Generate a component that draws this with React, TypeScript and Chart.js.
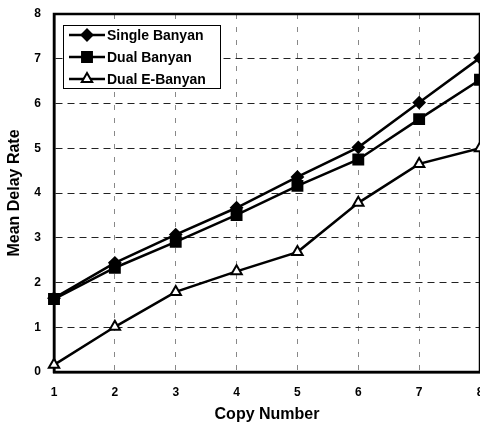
import React, { useEffect, useRef } from 'react';
import { Chart, registerables } from 'chart.js';

Chart.register(...registerables);

const copyNumbers = ['1', '2', '3', '4', '5', '6', '7', '8'];
const singleBanyan = [1.65, 2.44, 3.07, 3.67, 4.36, 5.02, 6.02, 7.02];
const dualBanyan = [1.63, 2.33, 2.91, 3.51, 4.16, 4.75, 5.65, 6.53];
const dualEBanyan = [0.16, 1.01, 1.79, 2.25, 2.68, 3.78, 4.65, 5.0];
const seriesNames = ['Single Banyan', 'Dual Banyan', 'Dual E-Banyan'];
const yMin = 0;
const yMax = 8;
const yStep = 1;

const FONT = '"Liberation Sans", Arial, sans-serif';

function drawMarker(ctx: CanvasRenderingContext2D, style: string, x: number, y: number, r: number) {
  ctx.save();
  ctx.beginPath();
  ctx.lineWidth = 2;
  ctx.strokeStyle = '#000';
  if (style === 'rectRot') {
    ctx.moveTo(x - r, y);
    ctx.lineTo(x, y - r);
    ctx.lineTo(x + r, y);
    ctx.lineTo(x, y + r);
    ctx.closePath();
    ctx.fillStyle = '#000';
    ctx.fill();
    ctx.stroke();
  } else if (style === 'rect') {
    const s = r * Math.SQRT1_2;
    ctx.rect(x - s, y - s, 2 * s, 2 * s);
    ctx.fillStyle = '#000';
    ctx.fill();
    ctx.stroke();
  } else {
    let rad = 0;
    ctx.moveTo(x + Math.sin(rad) * r, y - Math.cos(rad) * r);
    rad += (2 * Math.PI) / 3;
    ctx.lineTo(x + Math.sin(rad) * r, y - Math.cos(rad) * r);
    rad += (2 * Math.PI) / 3;
    ctx.lineTo(x + Math.sin(rad) * r, y - Math.cos(rad) * r);
    ctx.closePath();
    ctx.fillStyle = '#fff';
    ctx.fill();
    ctx.stroke();
  }
  ctx.restore();
}

const framePlugin = {
  id: 'frame',
  beforeDatasetsDraw(chart: any) {
    const { ctx, chartArea } = chart;
    ctx.save();
    ctx.strokeStyle = '#000';
    ctx.lineWidth = 2.5;
    ctx.strokeRect(chartArea.left, chartArea.top, chartArea.right - chartArea.left, chartArea.bottom - chartArea.top);
    ctx.restore();
  },
};

const legendPlugin = {
  id: 'boxLegend',
  afterDraw(chart: any) {
    const { ctx, chartArea } = chart;
    const bx = chartArea.left + 9;
    const by = chartArea.top + 11;
    const bw = 157;
    const bh = 63;
    ctx.save();
    ctx.fillStyle = '#fff';
    ctx.fillRect(bx, by, bw, bh);
    ctx.strokeStyle = '#000';
    ctx.lineWidth = 1;
    ctx.strokeRect(bx + 0.5, by + 0.5, bw, bh);
    chart.data.datasets.forEach((ds: any, i: number) => {
      const y = by + 10 + i * 22;
      ctx.beginPath();
      ctx.strokeStyle = '#000';
      ctx.lineWidth = 2.5;
      ctx.moveTo(bx + 6, y);
      ctx.lineTo(bx + 42, y);
      ctx.stroke();
      drawMarker(ctx, ds.pointStyle, bx + 24, y, ds.pointRadius);
      ctx.fillStyle = '#000';
      ctx.font = `bold 14px ${FONT}`;
      ctx.textBaseline = 'middle';
      ctx.textAlign = 'left';
      ctx.fillText(ds.label, bx + 44, y + 1);
    });
    ctx.restore();
  },
};

export default function App() {
  const ref = useRef<HTMLCanvasElement | null>(null);

  useEffect(() => {
    if (!ref.current) return;
    const mk = (label: string, data: number[], pointStyle: string, radius: number, fill: string) => ({
      label,
      data,
      borderColor: '#000',
      borderWidth: 2.5,
      pointStyle,
      pointRadius: radius,
      pointBackgroundColor: fill,
      pointBorderColor: '#000',
      pointBorderWidth: 2,
      fill: false,
      tension: 0,
      clip: false as any,
    });
    const chart = new Chart(ref.current, {
      type: 'line',
      data: {
        labels: copyNumbers,
        datasets: [
          mk(seriesNames[0], singleBanyan, 'rectRot', 5.5, '#000'),
          mk(seriesNames[1], dualBanyan, 'rect', 7, '#000'),
          mk(seriesNames[2], dualEBanyan, 'triangle', 6, '#fff'),
        ] as any,
      },
      options: {
        animation: false,
        responsive: false,
        devicePixelRatio: 1,
        layout: { autoPadding: false, padding: { top: 14, left: 0, right: 0, bottom: 0 } },
        plugins: {
          legend: { display: false },
          tooltip: { enabled: false },
        },
        scales: {
          x: {
            type: 'category',
            offset: false,
            grid: { color: '#888', lineWidth: 1, drawTicks: false },
            border: { display: true, color: '#000', width: 2.5, dash: [5, 8] },
            ticks: {
              color: '#000',
              padding: 13,
              maxRotation: 0,
              autoSkip: false,
              font: { family: FONT, size: 12, weight: 'bold' },
            },
            title: {
              display: true,
              text: 'Copy Number',
              color: '#000',
              padding: { top: 0, bottom: 0 },
              font: { family: FONT, size: 16, weight: 'bold', lineHeight: 1 },
            },
            afterFit(scale: any) {
              scale.height = 51;
              scale.paddingLeft = 0;
              scale.paddingRight = 0;
            },
          } as any,
          y: {
            min: yMin,
            max: yMax,
            grid: { color: '#222', lineWidth: 1, drawTicks: false },
            border: { display: true, color: '#000', width: 2.5, dash: [7, 5] },
            ticks: {
              stepSize: yStep,
              color: '#000',
              padding: 13,
              font: { family: FONT, size: 12, weight: 'bold' },
            },
            title: {
              display: true,
              text: 'Mean Delay Rate',
              color: '#000',
              padding: { top: 7, bottom: 0 },
              font: { family: FONT, size: 16, weight: 'bold', lineHeight: 1 },
            },
            afterFit(scale: any) {
              scale.width = 54;
              scale.paddingTop = 0;
              scale.paddingBottom = 0;
            },
          } as any,
        },
      },
      plugins: [framePlugin, legendPlugin],
    });
    return () => chart.destroy();
  }, []);

  return (
    <div style={{ position: 'absolute', left: 0, top: 0, width: 480, height: 423, background: '#fff' }}>
      <canvas ref={ref} width={480} height={423} style={{ display: 'block' }} />
    </div>
  );
}
